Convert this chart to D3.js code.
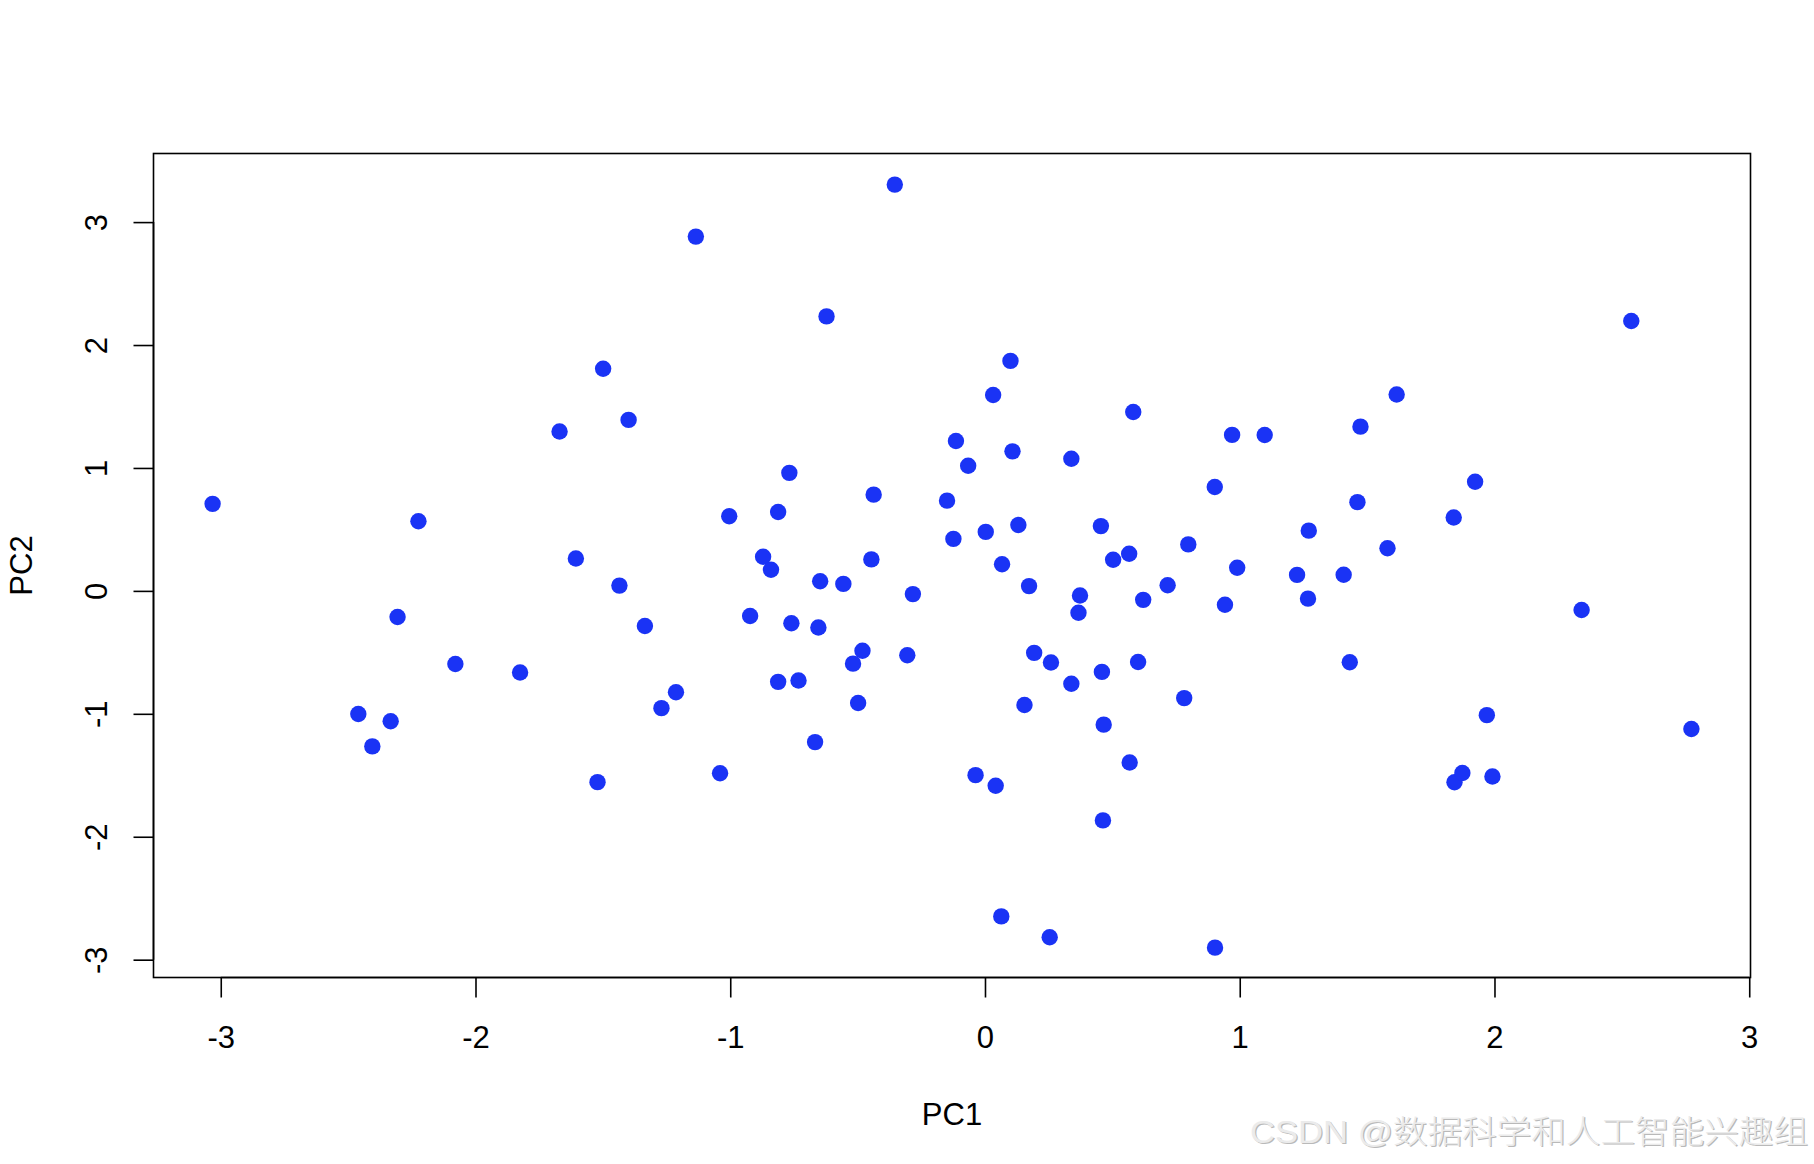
<!DOCTYPE html>
<html>
<head>
<meta charset="utf-8">
<script src="https://cdn.jsdelivr.net/npm/d3@7"></script>
<style>
  html, body { margin: 0; padding: 0; background: #ffffff; }
  svg { display: block; }
</style>
</head>
<body>
<svg id="chart" width="1814" height="1164"></svg>
<script>
// PCA scores (PC1, PC2)
const pc1 = [
  -3.032, -2.460, -2.405, -2.333, -2.306, -2.224, -2.079, -1.825, -1.670, -1.606,
  -1.521, -1.499, -1.435, -1.399, -1.335, -1.270, -1.213, -1.135, -1.040, -1.004,
  -0.922, -0.871, -0.840, -0.812, -0.812, -0.768, -0.760, -0.732, -0.667, -0.654,
  -0.647, -0.622, -0.556, -0.518, -0.498, -0.481, -0.446, -0.437, -0.354, -0.305,
  -0.283, -0.149, -0.124, -0.114, -0.066, -0.037, 0.003, 0.032, 0.042, 0.064,
  0.067, 0.100, 0.108, 0.131, 0.155, 0.173, 0.193, 0.254, 0.259, 0.339,
  0.339, 0.367, 0.373, 0.455, 0.459, 0.463, 0.466, 0.503, 0.566, 0.568,
  0.582, 0.601, 0.621, 0.717, 0.782, 0.798, 0.902, 0.903, 0.942, 0.970,
  0.990, 1.098, 1.225, 1.268, 1.271, 1.408, 1.432, 1.462, 1.474, 1.580,
  1.616, 1.840, 1.843, 1.874, 1.924, 1.970, 1.992, 2.342, 2.537, 2.773
];
const pc2 = [
  0.708, -1.002, -1.265, -1.060, -0.213, 0.567, -0.595, -0.664, 1.297, 0.263,
  -1.556, 1.807, 0.043, 1.391, -0.286, -0.954, -0.825, 2.882, -1.483, 0.607,
  -0.204, 0.278, 0.172, 0.642, -0.740, 0.960, -0.263, -0.729, -1.230, -0.298,
  0.078, 2.233, 0.057, -0.592, -0.912, -0.487, 0.256, 0.783, 3.305, -0.523,
  -0.026, 0.734, 0.423, 1.219, 1.018, -1.499, 0.480, 1.594, -1.585, -2.648,
  0.217, 1.871, 1.135, 0.536, -0.928, 0.039, -0.504, -2.817, -0.583, 1.075,
  -0.756, -0.178, -0.038, 0.527, -0.659, -1.867, -1.088, 0.253, 0.302, -1.396,
  1.455, -0.578, -0.073, 0.046, -0.872, 0.378, 0.845, -2.902, -0.113, 1.269,
  0.188, 1.268, 0.130, -0.063, 0.490, 0.131, -0.580, 0.722, 1.336, 0.347,
  1.597, 0.597, -1.557, -1.482, 0.888, -1.011, -1.510, -0.155, 2.196, -1.124
];
const xTicks = [-3, -2, -1, 0, 1, 2, 3];
const yTicks = [-3, -2, -1, 0, 1, 2, 3];
const xLabel = "PC1";
const yLabel = "PC2";
const watermark = "CSDN @数据科学和人工智能兴趣组";

const points = pc1.map((v, i) => ({ x: v, y: pc2[i] }));

const W = 1814, H = 1164;
const box = { left: 153.5, right: 1750.5, top: 153.5, bottom: 977.5 };
const font = "'Liberation Sans', Arial, Helvetica, sans-serif";

const svg = d3.select("#chart");
svg.append("rect").attr("width", W).attr("height", H).attr("fill", "#ffffff");

const x = d3.scaleLinear().domain([-3.264, 3.005]).range([box.left, box.right]);
const y = d3.scaleLinear().domain([-3.145, 3.558]).range([box.bottom, box.top]);

// points
svg.append("g")
  .selectAll("circle")
  .data(points)
  .join("circle")
  .attr("cx", d => x(d.x))
  .attr("cy", d => y(d.y))
  .attr("r", 8.2)
  .attr("fill", "#1a33f5");

// frame
svg.append("rect")
  .attr("x", box.left).attr("y", box.top)
  .attr("width", box.right - box.left).attr("height", box.bottom - box.top)
  .attr("fill", "none").attr("stroke", "#000").attr("stroke-width", 1.6);

// bottom axis
const xAxis = d3.axisBottom(x).tickValues(xTicks).tickSize(20).tickPadding(30)
  .tickFormat(d3.format("d"));
const gx = svg.append("g").attr("transform", `translate(0,${box.bottom})`).call(xAxis);
gx.select(".domain").attr("d", `M${x(-3)},0H${x(3)}`).attr("stroke-width", 1.6);
gx.selectAll(".tick line").attr("stroke-width", 1.6);
gx.selectAll(".tick text")
  .attr("font-family", font).attr("font-size", 31).attr("fill", "#000")
  .attr("dy", null).attr("y", 70.5)
  .text(d => d < 0 ? "-" + Math.abs(d) : String(d));

// left axis
const yAxis = d3.axisLeft(y).tickValues(yTicks).tickSize(20).tickFormat(d3.format("d"));
const gy = svg.append("g").attr("transform", `translate(${box.left},0)`).call(yAxis);
gy.select(".domain").attr("d", `M0,${y(-3)}V${y(3)}`).attr("stroke-width", 1.6);
gy.selectAll(".tick line").attr("stroke-width", 1.6);
gy.selectAll(".tick text")
  .attr("font-family", font).attr("font-size", 31).attr("fill", "#000")
  .attr("x", null).attr("dy", null)
  .attr("text-anchor", "middle")
  .attr("transform", "translate(-46.5,0) rotate(-90)")
  .text(d => d < 0 ? "-" + Math.abs(d) : String(d));

// axis titles
svg.append("text")
  .attr("x", (box.left + box.right) / 2).attr("y", 1125)
  .attr("text-anchor", "middle")
  .attr("font-family", font).attr("font-size", 31).attr("fill", "#000")
  .text(xLabel);
svg.append("text")
  .attr("transform", `translate(31.5,${(box.top + box.bottom) / 2}) rotate(-90)`)
  .attr("text-anchor", "middle")
  .attr("font-family", font).attr("font-size", 31).attr("fill", "#000")
  .text(yLabel);

// watermark (light text with a soft grey shadow)
const wmFont = "'Liberation Sans', Arial, 'Noto Sans CJK SC', sans-serif";
[{ dx: 1.3, dy: 1.3, fill: "#b9b9b9" }, { dx: 0, dy: 0, fill: "#ebebeb" }].forEach(s => {
  svg.append("text")
    .attr("x", 1250 + s.dx).attr("y", 1143 + s.dy)
    .attr("textLength", 558).attr("lengthAdjust", "spacingAndGlyphs")
    .attr("font-family", wmFont)
    .attr("font-size", 32)
    .attr("font-weight", 300)
    .attr("fill", s.fill)
    .text(watermark);
});
</script>
</body>
</html>
